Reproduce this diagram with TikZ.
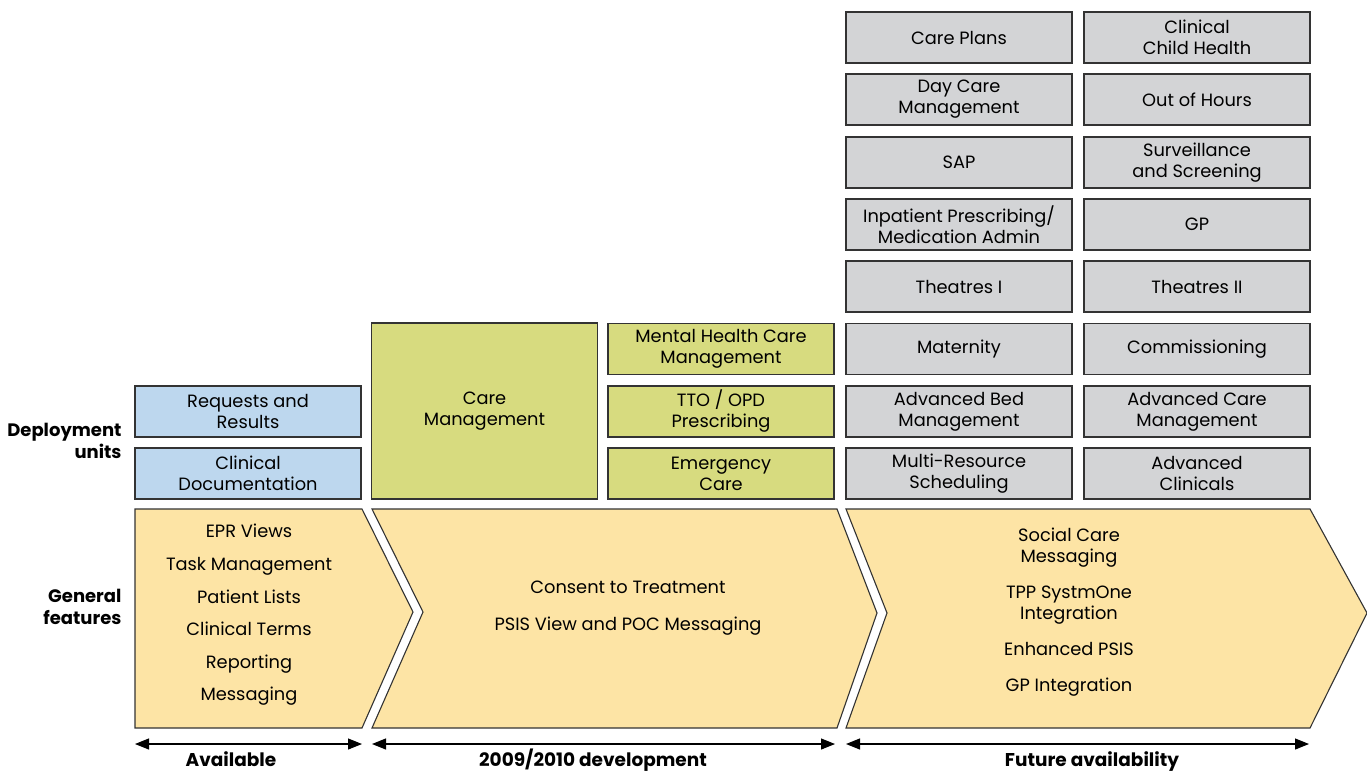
\documentclass[tikz,border=0pt]{standalone}
\usepackage{fontspec}
\setmainfont{Poppins}
\usetikzlibrary{arrows.meta}

\definecolor{unitBlue}{HTML}{BDD7EE}
\definecolor{unitGreen}{HTML}{D7DB7F}
\definecolor{unitGray}{HTML}{D3D4D6}
\definecolor{featYellow}{HTML}{FDE4A5}
\definecolor{edgeGray}{HTML}{333333}

\begin{document}
\begin{tikzpicture}[x=1pt,y=-1pt,
    unit/.style={draw=edgeGray, line width=1.1pt, minimum width=226pt, minimum height=51pt,
                 inner sep=0pt, align=center, font=\fontsize{17.8}{21}\selectfont},
    feature/.style={draw=edgeGray, line width=1.1pt, fill=featYellow, line join=miter},
    sidelabel/.style={anchor=east, align=right, font=\bfseries\fontsize{18}{22}\selectfont},
    span/.style={line width=1.1pt, {Triangle[length=14pt,width=11pt]}-{Triangle[length=14pt,width=11pt]}},
    spanlabel/.style={anchor=base, inner sep=0pt, font=\bfseries\fontsize{18.5}{20}\selectfont}]
    \useasboundingbox (0,0) rectangle (1367,771);

    % deployment units
    \node[unit, fill=unitBlue] (reqres) at (248,411.5) {Requests and\\Results};
    \node[unit, fill=unitBlue] (clindoc) at (248,473.5) {Clinical\\Documentation};

    \node[unit, fill=unitGreen, minimum height=176pt] (caremgmt) at (484.5,411) {Care\\Management};
    \node[unit, fill=unitGreen] (mhcm) at (721,349) {Mental Health Care\\Management};
    \node[unit, fill=unitGreen] (ttoopd) at (721,411.5) {TTO / OPD\\Prescribing};
    \node[unit, fill=unitGreen] (emerg) at (721,473.5) {Emergency\\Care};

    \node[unit, fill=unitGray] (careplans) at (959,37.5) {Care Plans};
    \node[unit, fill=unitGray] (daycare) at (959,99.5) {Day Care\\Management};
    \node[unit, fill=unitGray] (sap) at (959,162.5) {SAP};
    \node[unit, fill=unitGray] (inpat) at (959,224.5) {Inpatient Prescribing/\\Medication Admin};
    \node[unit, fill=unitGray] (theatres1) at (959,286.5) {Theatres I};
    \node[unit, fill=unitGray] (maternity) at (959,349) {Maternity};
    \node[unit, fill=unitGray] (advbed) at (959,411.5) {Advanced Bed\\Management};
    \node[unit, fill=unitGray] (multires) at (959,473.5) {Multi-Resource\\Scheduling};

    \node[unit, fill=unitGray] (childhealth) at (1197,37.5) {Clinical\\Child Health};
    \node[unit, fill=unitGray] (outhours) at (1197,99.5) {Out of Hours};
    \node[unit, fill=unitGray] (surveil) at (1197,162.5) {Surveillance\\and Screening};
    \node[unit, fill=unitGray] (gp) at (1197,224.5) {GP};
    \node[unit, fill=unitGray] (theatres2) at (1197,286.5) {Theatres II};
    \node[unit, fill=unitGray] (commiss) at (1197,349) {Commissioning};
    \node[unit, fill=unitGray] (advcare) at (1197,411.5) {Advanced Care\\Management};
    \node[unit, fill=unitGray] (advclin) at (1197,473.5) {Advanced\\Clinicals};

    % general features
    \filldraw[feature] (135,509) -- (362,509) -- (413,612) -- (362,728) -- (135,728) -- cycle;
    \filldraw[feature] (372,509) -- (837,509) -- (877,613) -- (837,728) -- (372,728) -- (423,612) -- cycle;
    \filldraw[feature] (846,509) -- (1310,509) -- (1367,613) -- (1310,728) -- (846,728) -- (887,613) -- cycle;

    \node[align=center, font=\fontsize{17.8}{32.6}\selectfont] (featnow) at (249,615)
        {EPR Views\\Task Management\\Patient Lists\\Clinical Terms\\Reporting\\Messaging};
    \node[align=center, font=\fontsize{17.8}{37}\selectfont] (featdev) at (628,608)
        {Consent to Treatment\\PSIS View and POC Messaging};
    \node[align=center, font=\fontsize{17.8}{21}\selectfont] (featfuture) at (1069,612.5)
        {Social Care\\Messaging\\[15pt]TPP SystmOne\\Integration\\[15pt]Enhanced PSIS\\[15pt]GP Integration};

    % row labels
    \node[sidelabel] (deplabel) at (125,441) {Deployment\\units};
    \node[sidelabel] (genlabel) at (125,607) {General\\features};

    % time spans
    \coordinate (availL) at (135,744);
    \coordinate (availR) at (362,744);
    \coordinate (devL) at (372,744);
    \coordinate (devR) at (835,744);
    \coordinate (futL) at (846,744);
    \coordinate (futR) at (1309,744);
    \draw[span] (availL) -- (availR);
    \draw[span] (devL) -- (devR);
    \draw[span] (futL) -- (futR);
    \node[spanlabel] (availtxt) at (231,766) {Available};
    \node[spanlabel] (devtxt) at (593,766) {2009/2010 development};
    \node[spanlabel] (futtxt) at (1092,766) {Future availability};
\end{tikzpicture}
\end{document}
